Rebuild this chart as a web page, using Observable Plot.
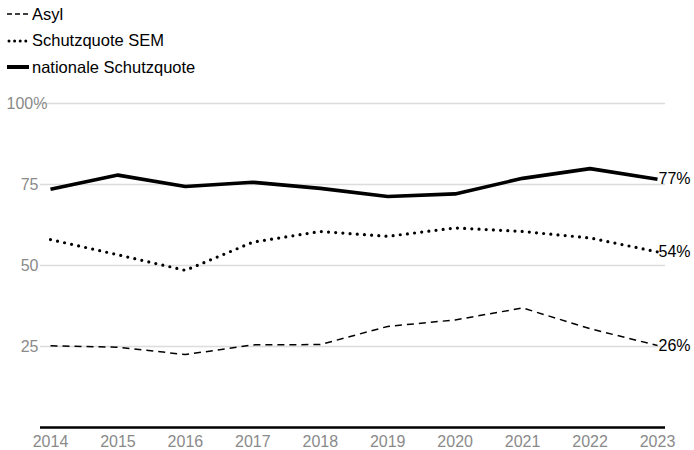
<!DOCTYPE html>
<html>
<head>
<meta charset="utf-8">
<script src="https://cdn.jsdelivr.net/npm/d3@7"></script>
<script src="https://cdn.jsdelivr.net/npm/@observablehq/plot@0.6"></script>
<style>
  body { margin: 0; background: #fff; font-family: "Liberation Sans", Arial, sans-serif; }
  #legend { height: 88px; padding: 1px 0 0 7px; box-sizing: border-box; }
  .row { height: 26.5px; display: flex; align-items: center; font-size: 16.5px; color: #000; }
  .row svg { margin-right: 3px; }
</style>
</head>
<body>
<div id="legend"></div>
<div id="chart"></div>
<script>
const years = [2014, 2015, 2016, 2017, 2018, 2019, 2020, 2021, 2022, 2023];
const asyl = [25.2, 24.8, 22.5, 25.5, 25.6, 31.2, 33.2, 36.9, 30.5, 25.3];
const sem = [58.0, 53.3, 48.5, 57.2, 60.5, 59.0, 61.6, 60.5, 58.5, 54.2];
const national = [73.5, 77.9, 74.4, 75.7, 73.8, 71.3, 72.1, 76.9, 79.9, 76.6];
const seriesNames = ["Asyl", "Schutzquote SEM", "nationale Schutzquote"];
const endLabels = ["26%", "54%", "77%"];
const yTicks = [25, 50, 75];

const styles = {
  "Asyl": {strokeWidth: 1.5, strokeDasharray: "7 5", strokeLinecap: "butt"},
  "Schutzquote SEM": {strokeWidth: 3.2, strokeDasharray: "0 7.2", strokeLinecap: "round"},
  "nationale Schutzquote": {strokeWidth: 3.6, strokeDasharray: null, strokeLinecap: "butt"}
};
const legendStyles = {
  "Asyl": {w: 1.5, dash: "5 3", cap: "butt"},
  "Schutzquote SEM": {w: 3, dash: "0 5.6", cap: "round"},
  "nationale Schutzquote": {w: 4, dash: null, cap: "butt"}
};

const legend = d3.select("#legend");
seriesNames.forEach(name => {
  const row = legend.append("div").attr("class", "row");
  const s = row.append("svg").attr("width", 22).attr("height", 10);
  const st = legendStyles[name];
  const ln = s.append("line").attr("x1", st.cap === "round" ? 2 : 0).attr("x2", 22).attr("y1", 5).attr("y2", 5)
    .attr("stroke", "#000").attr("stroke-width", st.w).attr("stroke-linecap", st.cap);
  if (st.dash) ln.attr("stroke-dasharray", st.dash);
  row.append("span").text(name);
});

const seriesValues = [asyl, sem, national];
const rows = [];
seriesNames.forEach((name, i) => {
  years.forEach((y, j) => rows.push({series: name, year: y, value: seriesValues[i][j]}));
});
const last = seriesNames.map((name, i) => ({series: name, year: years[years.length - 1], value: seriesValues[i][years.length - 1], label: endLabels[i]}));

const lineMarks = seriesNames.map(name => Plot.line(rows.filter(d => d.series === name), {
  x: "year", y: "value", stroke: "#000",
  strokeWidth: styles[name].strokeWidth,
  strokeDasharray: styles[name].strokeDasharray,
  strokeLinecap: styles[name].strokeLinecap,
  strokeLinejoin: "round"
}));

const chart = Plot.plot({
  width: 694,
  height: 362,
  marginLeft: 40,
  marginRight: 29,
  marginTop: 15,
  marginBottom: 23,
  style: {fontFamily: "Liberation Sans, Arial, sans-serif", fontSize: "16px", background: "#fff"},
  x: {domain: [2014, 2023], insetLeft: 10, insetRight: 8},
  y: {domain: [0, 100]},
  marks: [
    Plot.ruleY([25, 50, 75, 100], {stroke: "#dcdcdc", strokeWidth: 1.5}),
    Plot.axisY(yTicks, {tickSize: 0, tickPadding: 2, stroke: "none", fill: "#8a8a8a", fontSize: 16, label: null, textAnchor: "end"}),
    Plot.text([100], {y: d => d, text: () => "100%", frameAnchor: "left", dx: -34, textAnchor: "start", fill: "#8a8a8a", fontSize: 16}),
    Plot.axisX(years, {tickSize: 0, tickPadding: 8, stroke: "none", fill: "#8a8a8a", fontSize: 16, label: null, tickFormat: d => String(d)}),
    ...lineMarks,
    Plot.ruleY([0], {stroke: "#000", strokeWidth: 2.5}),
    Plot.text(last, {x: "year", y: "value", text: "label", textAnchor: "start", dx: 1, fill: "#000", fontSize: 16})
  ]
});
document.getElementById("chart").appendChild(chart);
</script>
</body>
</html>
